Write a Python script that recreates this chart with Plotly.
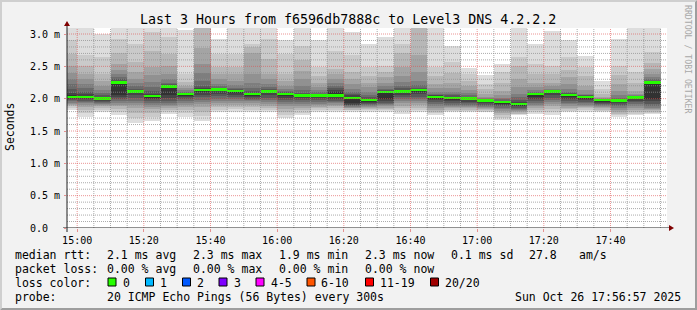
import plotly.graph_objects as go
import pandas as pd

# ---------------- data ----------------
times = ["2025-10-26 15:00", "2025-10-26 15:05", "2025-10-26 15:10", "2025-10-26 15:15",
         "2025-10-26 15:20", "2025-10-26 15:25", "2025-10-26 15:30", "2025-10-26 15:35",
         "2025-10-26 15:40", "2025-10-26 15:45", "2025-10-26 15:50", "2025-10-26 15:55",
         "2025-10-26 16:00", "2025-10-26 16:05", "2025-10-26 16:10", "2025-10-26 16:15",
         "2025-10-26 16:20", "2025-10-26 16:25", "2025-10-26 16:30", "2025-10-26 16:35",
         "2025-10-26 16:40", "2025-10-26 16:45", "2025-10-26 16:50", "2025-10-26 16:55",
         "2025-10-26 17:00", "2025-10-26 17:05", "2025-10-26 17:10", "2025-10-26 17:15",
         "2025-10-26 17:20", "2025-10-26 17:25", "2025-10-26 17:30", "2025-10-26 17:35",
         "2025-10-26 17:40", "2025-10-26 17:45", "2025-10-26 17:50", "2025-10-26 17:55"]

# sorted ping rtts (ms) per 5-minute step, p01 = fastest ... p20 = slowest
p20 = [3.25, 3.25, 3.00, 3.25, 3.25, 3.25, 3.25, 3.06, 3.25, 2.92, 3.25, 3.25, 3.25, 2.90, 3.25, 2.91, 3.25, 3.03,
       2.85, 2.96, 3.25, 3.25, 3.25, 2.82, 2.47, 2.36, 2.53, 3.25, 2.84, 3.05, 2.90, 2.66, 2.28, 2.92, 3.25, 3.25]
p19 = [2.90, 2.67, 2.64, 2.92, 2.85, 3.03, 2.95, 2.38, 3.20, 2.69, 2.69, 2.84, 2.92, 2.69, 2.82, 2.49, 2.74, 2.67,
       2.49, 2.51, 2.85, 3.20, 2.49, 2.56, 2.38, 2.23, 2.41, 2.64, 2.54, 2.51, 2.64, 2.49, 2.15, 2.51, 2.41, 2.72]
p18 = [2.69, 2.50, 2.38, 2.70, 2.56, 2.74, 2.69, 2.26, 3.15, 2.49, 2.49, 2.80, 2.61, 2.38, 2.60, 2.35, 2.46, 2.41,
       2.35, 2.42, 2.70, 3.10, 2.35, 2.40, 2.28, 2.15, 2.25, 2.50, 2.38, 2.38, 2.45, 2.35, 2.08, 2.36, 2.25, 2.55]
p17 = [2.51, 2.38, 2.28, 2.54, 2.42, 2.49, 2.50, 2.20, 2.79, 2.38, 2.38, 2.70, 2.38, 2.28, 2.43, 2.25, 2.38, 2.30,
       2.25, 2.33, 2.49, 2.67, 2.23, 2.25, 2.20, 2.07, 2.12, 2.30, 2.25, 2.25, 2.33, 2.20, 2.03, 2.23, 2.12, 2.46]
p16 = [2.40, 2.30, 2.20, 2.45, 2.31, 2.36, 2.38, 2.16, 2.54, 2.30, 2.28, 2.38, 2.30, 2.20, 2.30, 2.18, 2.30, 2.22,
       2.18, 2.25, 2.35, 2.41, 2.16, 2.17, 2.14, 2.03, 2.05, 2.18, 2.18, 2.19, 2.22, 2.13, 2.01, 2.12, 2.08, 2.38]
p15 = [2.30, 2.22, 2.14, 2.38, 2.24, 2.26, 2.30, 2.13, 2.40, 2.23, 2.21, 2.25, 2.23, 2.15, 2.20, 2.13, 2.24, 2.15,
       2.10, 2.19, 2.26, 2.28, 2.11, 2.11, 2.09, 2.01, 2.01, 2.08, 2.13, 2.15, 2.15, 2.08, 2.00, 2.05, 2.05, 2.33]
p14 = [2.22, 2.16, 2.09, 2.33, 2.19, 2.18, 2.25, 2.11, 2.28, 2.19, 2.17, 2.17, 2.18, 2.12, 2.13, 2.10, 2.20, 2.10,
       2.05, 2.15, 2.20, 2.21, 2.08, 2.07, 2.05, 2.00, 1.99, 2.02, 2.10, 2.13, 2.11, 2.06, 1.99, 2.01, 2.04, 2.30]
p13 = [2.15, 2.11, 2.06, 2.30, 2.15, 2.12, 2.22, 2.09, 2.20, 2.17, 2.15, 2.12, 2.15, 2.10, 2.09, 2.08, 2.16, 2.07,
       2.02, 2.13, 2.16, 2.17, 2.06, 2.05, 2.03, 1.99, 1.97, 1.98, 2.09, 2.12, 2.09, 2.05, 1.99, 1.99, 2.03, 2.28]
p12 = [2.09, 2.07, 2.03, 2.28, 2.13, 2.08, 2.20, 2.08, 2.16, 2.15, 2.13, 2.09, 2.13, 2.09, 2.07, 2.07, 2.13, 2.05,
       2.00, 2.11, 2.13, 2.15, 2.05, 2.03, 2.02, 1.98, 1.96, 1.95, 2.08, 2.12, 2.08, 2.04, 1.98, 1.98, 2.03, 2.27]
p11 = [2.05, 2.04, 2.01, 2.26, 2.12, 2.05, 2.18, 2.07, 2.14, 2.14, 2.12, 2.08, 2.12, 2.08, 2.06, 2.06, 2.10, 2.03,
       1.99, 2.10, 2.12, 2.14, 2.04, 2.02, 2.01, 1.98, 1.96, 1.93, 2.07, 2.11, 2.07, 2.04, 1.98, 1.98, 2.02, 2.26]
p10 = [2.02, 2.02, 1.99, 2.05, 2.09, 2.02, 2.05, 2.05, 2.11, 2.12, 2.10, 2.05, 2.09, 2.05, 2.04, 2.04, 2.03, 1.93,
       1.96, 2.00, 2.09, 2.11, 2.01, 1.99, 1.98, 1.95, 1.93, 1.90, 2.04, 2.09, 2.04, 2.01, 1.96, 1.95, 2.00, 2.00]
p09 = [2.00, 1.99, 1.97, 2.03, 2.05, 1.99, 2.01, 2.02, 2.06, 2.08, 2.06, 2.02, 2.05, 2.01, 2.01, 2.01, 2.00, 1.91,
       1.94, 1.97, 2.05, 2.07, 1.98, 1.96, 1.95, 1.93, 1.90, 1.88, 2.00, 2.05, 2.00, 1.98, 1.94, 1.93, 1.97, 1.96]
p08 = [1.98, 1.97, 1.95, 2.00, 2.01, 1.96, 1.97, 1.99, 2.02, 2.04, 2.02, 2.00, 2.01, 1.98, 1.98, 1.98, 1.97, 1.90,
       1.92, 1.94, 2.02, 2.03, 1.95, 1.93, 1.93, 1.91, 1.88, 1.86, 1.97, 2.01, 1.97, 1.95, 1.92, 1.91, 1.95, 1.92]
p07 = [1.96, 1.95, 1.93, 1.97, 1.97, 1.93, 1.94, 1.96, 1.98, 2.00, 1.99, 1.98, 1.98, 1.95, 1.95, 1.95, 1.95, 1.88,
       1.90, 1.92, 1.99, 2.00, 1.92, 1.91, 1.91, 1.89, 1.86, 1.84, 1.94, 1.98, 1.94, 1.93, 1.90, 1.89, 1.92, 1.89]
p06 = [1.94, 1.93, 1.92, 1.94, 1.94, 1.90, 1.91, 1.94, 1.95, 1.97, 1.97, 1.96, 1.95, 1.92, 1.92, 1.92, 1.93, 1.87,
       1.89, 1.90, 1.97, 1.97, 1.89, 1.89, 1.89, 1.87, 1.84, 1.83, 1.91, 1.95, 1.92, 1.91, 1.89, 1.86, 1.89, 1.86]
p05 = [1.92, 1.90, 1.90, 1.91, 1.90, 1.87, 1.88, 1.91, 1.92, 1.94, 1.94, 1.93, 1.92, 1.88, 1.89, 1.90, 1.90, 1.86,
       1.87, 1.88, 1.93, 1.94, 1.86, 1.87, 1.87, 1.86, 1.81, 1.81, 1.89, 1.92, 1.89, 1.89, 1.87, 1.83, 1.86, 1.84]
p04 = [1.90, 1.87, 1.88, 1.88, 1.85, 1.84, 1.86, 1.87, 1.87, 1.91, 1.91, 1.90, 1.89, 1.84, 1.86, 1.87, 1.88, 1.85,
       1.86, 1.86, 1.89, 1.90, 1.83, 1.85, 1.85, 1.84, 1.78, 1.79, 1.86, 1.88, 1.86, 1.87, 1.85, 1.80, 1.83, 1.82]
p03 = [1.88, 1.83, 1.85, 1.84, 1.78, 1.78, 1.83, 1.83, 1.80, 1.87, 1.87, 1.87, 1.86, 1.80, 1.82, 1.85, 1.85, 1.83,
       1.84, 1.84, 1.85, 1.86, 1.80, 1.83, 1.83, 1.82, 1.74, 1.77, 1.83, 1.84, 1.84, 1.85, 1.83, 1.77, 1.80, 1.80]
p02 = [1.85, 1.78, 1.82, 1.80, 1.70, 1.72, 1.80, 1.78, 1.73, 1.83, 1.84, 1.83, 1.82, 1.75, 1.78, 1.82, 1.82, 1.82,
       1.82, 1.82, 1.81, 1.82, 1.78, 1.81, 1.81, 1.80, 1.70, 1.76, 1.79, 1.79, 1.81, 1.82, 1.81, 1.74, 1.77, 1.78]
p01 = [1.82, 1.72, 1.79, 1.75, 1.63, 1.66, 1.76, 1.72, 1.66, 1.79, 1.80, 1.80, 1.79, 1.70, 1.75, 1.80, 1.80, 1.80,
       1.80, 1.80, 1.77, 1.79, 1.75, 1.80, 1.79, 1.79, 1.67, 1.74, 1.76, 1.75, 1.79, 1.80, 1.80, 1.72, 1.75, 1.76]

median = [2.03, 2.03, 2.00, 2.25, 2.11, 2.04, 2.19, 2.07, 2.13, 2.14, 2.12, 2.07, 2.11, 2.07, 2.05, 2.05, 2.05, 2.01,
          1.98, 2.10, 2.11, 2.13, 2.03, 2.01, 2.00, 1.97, 1.95, 1.92, 2.07, 2.11, 2.06, 2.03, 1.98, 1.97, 2.02, 2.25]

range_start = "2025-10-26 14:56:57"
range_end = "2025-10-26 17:56:57"
y_max = 3.093

title_text = "Last 3 Hours from f6596db7888c to Level3 DNS 4.2.2.2"
y_tick_vals = [0.0, 0.5, 1.0, 1.5, 2.0, 2.5, 3.0]
y_tick_text = ["0.0\u00a0\u00a0", "0.5 m", "1.0 m", "1.5 m", "2.0 m", "2.5 m", "3.0 m"]
x_tick_vals = ["2025-10-26 15:00", "2025-10-26 15:20", "2025-10-26 15:40", "2025-10-26 16:00",
               "2025-10-26 16:20", "2025-10-26 16:40", "2025-10-26 17:00", "2025-10-26 17:20",
               "2025-10-26 17:40"]
x_tick_text = ["15:00", "15:20", "15:40", "16:00", "16:20", "16:40", "17:00", "17:20", "17:40"]

rtt_label = "median rtt:"
rtt_items = ["2.1 ms avg", "2.3 ms max", "1.9 ms min", "2.3 ms now", "0.1 ms sd", "27.8", "am/s"]
loss_label = "packet loss:"
loss_items = ["0.00 % avg", "0.00 % max", "0.00 % min", "0.00 % now"]
color_label = "loss color:"
loss_labels = ["0", "1", "2", "3", "4-5", "6-10", "11-19", "20/20"]
loss_colors = ["#26ff00", "#00b8ff", "#0059ff", "#7e00ff", "#ff00ff", "#ff5500", "#ff0000", "#a00000"]
probe_label = "probe:"
probe_text = "20 ICMP Echo Pings (56 Bytes) every 300s"
stamp_text = "Sun Oct 26 17:56:57 2025"
watermark = "RRDTOOL / TOBI OETIKER"

# ---------------- layout constants (pixels) ----------------
W, H = 697, 310
L, T, PW, PH = 67, 28, 600, 200
MONO = "DejaVu Sans Mono"
STEP_MS = 300000


def px_x(px):
    return (px - L) / PW


def px_y(py):
    return (T + PH - py) / PH


pings = [p01, p02, p03, p04, p05, p06, p07, p08, p09, p10,
         p11, p12, p13, p14, p15, p16, p17, p18, p19, p20]
for arr in pings + [median]:
    assert len(arr) == len(times)

fig = go.Figure()

# smoke: layer k spans ping k .. ping 21-k, darker toward the middle
half = 10
for k in range(1, half + 1):
    lo = pings[k - 1]
    hi = pings[20 - k]
    g = int(190 / half * (half - k)) + 50
    col = "#%02x%02x%02x" % (g, g, g)
    fig.add_trace(go.Bar(
        x=times, base=lo, y=[h - l for h, l in zip(hi, lo)],
        width=STEP_MS, offset=-STEP_MS, marker=dict(color=col, line=dict(width=0)),
        hoverinfo="skip", showlegend=False))

# median band (loss colour 0)
sw = y_max / PH * 1.2
fig.add_trace(go.Bar(
    x=times, base=[m - sw for m in median], y=[2 * sw] * len(median),
    width=STEP_MS, offset=-STEP_MS, marker=dict(color=loss_colors[0], line=dict(width=0)),
    hoverinfo="skip", showlegend=False))

shapes = []
# grid (dotted, on top of the smoke)
GRID = "rgba(143,143,143,0.75)"
MGRID = "rgba(222,79,79,0.6)"
for k in range(1, 31):
    v = k / 10
    major = (k % 5 == 0)
    shapes.append(dict(type="line", xref="paper", x0=0, x1=1, yref="y", y0=v, y1=v,
                       line=dict(color=MGRID if major else GRID, width=1, dash="1px,1px"),
                       layer="above"))
for t in pd.date_range("2025-10-26 15:00", "2025-10-26 17:55", freq="5min"):
    major = (t.minute % 20 == 0)
    shapes.append(dict(type="line", yref="paper", y0=0, y1=1, xref="x",
                       x0=t.strftime("%Y-%m-%d %H:%M"), x1=t.strftime("%Y-%m-%d %H:%M"),
                       line=dict(color=MGRID if major else GRID, width=1, dash="1px,1px"),
                       layer="above"))

# axes with overshoot and arrows
AXIS = "#212121"
ARROW = "#7f0000"
shapes.append(dict(type="line", xref="paper", xsizemode="pixel", xanchor=0, x0=-4, x1=PW + 4,
                   yref="y", y0=0, y1=0, line=dict(color=AXIS, width=1), layer="above"))
shapes.append(dict(type="line", xref="paper", x0=0, x1=0, yref="paper", ysizemode="pixel",
                   yanchor=0, y0=-4, y1=PH + 4, line=dict(color=AXIS, width=1), layer="above"))
shapes.append(dict(type="path", xref="paper", xsizemode="pixel", xanchor=1,
                   yref="paper", ysizemode="pixel", yanchor=0,
                   path="M 2,3 L 2,-3 L 7,0 Z", fillcolor=ARROW, line=dict(width=0), layer="above"))
shapes.append(dict(type="path", xref="paper", xsizemode="pixel", xanchor=0,
                   yref="paper", ysizemode="pixel", yanchor=1,
                   path="M -3,2 L 3,2 L 0,7 Z", fillcolor=ARROW, line=dict(width=0), layer="above"))

# 3d border of the canvas
def ppath(points):
    return "M " + " L ".join("%.5f,%.5f" % (px_x(a), px_y(b)) for a, b in points) + " Z"

shapes.append(dict(type="path", xref="paper", yref="paper",
                   path=ppath([(0, H), (2, H - 2), (2, 2), (W - 2, 2), (W, 0), (0, 0)]),
                   fillcolor="#cfcfcf", line=dict(width=0), layer="above"))
shapes.append(dict(type="path", xref="paper", yref="paper",
                   path=ppath([(2, H - 2), (W - 2, H - 2), (W - 2, 2), (W, 0), (W, H), (0, H)]),
                   fillcolor="#9e9e9e", line=dict(width=0), layer="above"))

annotations = []


def text(s, x, y, size=11.5, anchor="left", color="#000000", angle=0):
    annotations.append(dict(text=s, xref="paper", yref="paper", x=px_x(x), y=px_y(y),
                            xanchor=anchor, yanchor="middle", showarrow=False,
                            textangle=angle, borderpad=0, borderwidth=0,
                            font=dict(family=MONO, size=size, color=color)))


text(title_text, 348, 19, size=13.3, anchor="center")
text("Seconds", 10, 127, anchor="center", angle=-90)
text(watermark, 688, 59, size=8.2, anchor="center", color="#a8a8a8", angle=90)

row_y = [254.5, 268.5, 282.5, 296.5]
text(rtt_label, 15, row_y[0])
for s, x in zip(rtt_items, [106.5, 192.5, 278.5, 364.5, 451, 529, 578.5]):
    text(s, x, row_y[0])
text(loss_label, 15, row_y[1])
for s, x in zip(loss_items, [106.5, 192.5, 278.5, 364.5]):
    text(s, x, row_y[1])
text(color_label, 15, row_y[2])
box_x = [108, 145.5, 182.5, 219, 256, 307, 365.5, 430.5]
lab_x = [122.5, 160, 196.5, 233.5, 270.5, 321, 380, 445]
for lab, col, bx, lx in zip(loss_labels, loss_colors, box_x, lab_x):
    shapes.append(dict(type="rect", xref="paper", yref="paper",
                       x0=px_x(bx), x1=px_x(bx + 8), y0=px_y(278), y1=px_y(286),
                       fillcolor=col, line=dict(color="#000000", width=1), layer="above"))
    text(lab, lx, row_y[2])
text(probe_label, 15, row_y[3])
text(probe_text, 106.5, row_y[3])
text(stamp_text, 681, row_y[3], anchor="right")

fig.update_layout(
    width=W, height=H,
    margin=dict(l=L, r=W - L - PW, t=T, b=H - T - PH, pad=0),
    paper_bgcolor="#f2f2f2", plot_bgcolor="#ffffff",
    barmode="overlay", bargap=0, showlegend=False,
    shapes=shapes, annotations=annotations,
    xaxis=dict(type="date", range=[range_start, range_end], tickmode="array",
               tickvals=x_tick_vals, ticktext=x_tick_text, ticks="outside", ticklen=3,
               tickcolor=MGRID, tickwidth=1, showgrid=False, zeroline=False, showline=False,
               tickfont=dict(family=MONO, size=10, color="#000000"), fixedrange=True),
    yaxis=dict(range=[0, y_max], tickmode="array", tickvals=y_tick_vals, ticktext=y_tick_text,
               ticks="outside", ticklen=2, tickcolor=MGRID, tickwidth=1, ticklabelstandoff=2,
               showgrid=False, zeroline=False, showline=False,
               tickfont=dict(family=MONO, size=10, color="#000000"), fixedrange=True),
)

fig.write_html("out.html")
